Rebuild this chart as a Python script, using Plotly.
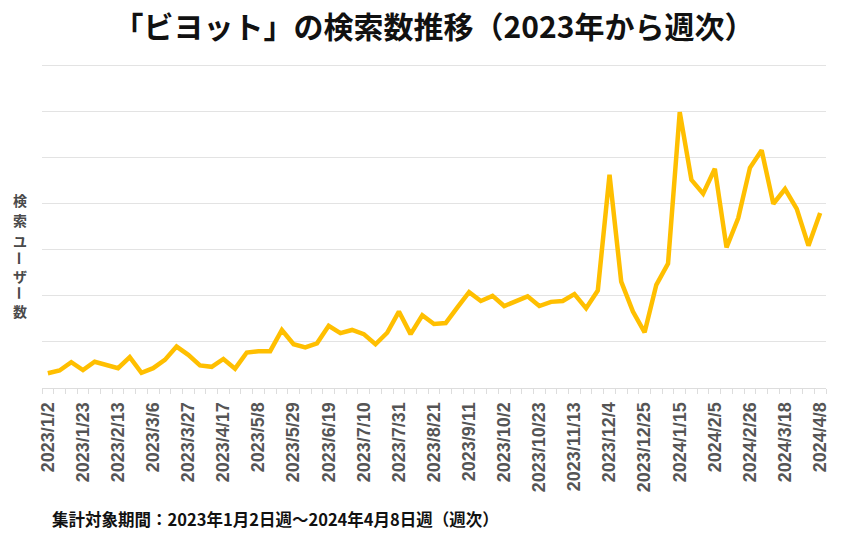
import plotly.graph_objects as go
from datetime import date, timedelta

# ---- data ----
start = date(2023, 1, 2)
weeks = [start + timedelta(days=7 * i) for i in range(67)]
week_labels = [f"{d.year}/{d.month}/{d.day}" for d in weeks]

search_users = [
    3.2, 3.8, 5.6, 3.9, 5.7, 4.9, 4.3, 6.7, 3.3, 4.3,
    6.1, 9.0, 7.2, 4.9, 4.6, 6.3, 4.2, 7.7, 8.0, 8.0,
    12.6, 9.5, 8.8, 9.7, 13.5, 11.9, 12.6, 11.7, 9.5, 12.0,
    16.6, 11.7, 15.8, 13.9, 14.1, 17.5, 20.8, 18.9, 20.0, 17.8,
    18.9, 19.9, 17.8, 18.7, 18.9, 20.4, 17.3, 21.2, 46.3, 23.1,
    16.6, 12.1, 22.4, 27.0, 59.9, 45.2, 42.2, 47.6, 30.5, 36.9,
    47.8, 51.6, 40.0, 43.2, 38.9, 30.9, 38.0,
]

title_text = "「ビヨット」の検索数推移（2023年から週次）"
y_title = "検索ユーザー数"
note_text = "集計対象期間：2023年1月2日週～2024年4月8日週（週次）"

FONT = "Noto Sans CJK JP"
TICK_FONT = "Liberation Sans"
x_idx = list(range(len(weeks)))
tick_idx = x_idx[::3]

# plot area: bottom at 388px, 46px per 10 units; range top 71 so the 70 grid line shows
Y_TOP = 71
PX_PER_UNIT = 4.6
plot_h = Y_TOP * PX_PER_UNIT
top_m = 388 - plot_h

fig = go.Figure()
fig.add_trace(go.Scatter(
    x=x_idx, y=search_users, mode="lines",
    line=dict(color="#FFBF00", width=4.5),
    hoverinfo="skip", showlegend=False,
))

fig.update_layout(
    width=852, height=546,
    margin=dict(l=42, r=26, t=top_m, b=158, autoexpand=False),
    paper_bgcolor="white", plot_bgcolor="white",
    font=dict(family=FONT),
    title=dict(
        text=title_text, x=0.5, xref="paper", xanchor="center",
        y=1 - 27 / 546, yref="container", yanchor="middle",
        font=dict(family=FONT, size=30, color="#111111", weight="bold"),
    ),
    xaxis=dict(
        range=[-0.5, len(weeks) - 0.5],
        tickmode="array", tickvals=tick_idx,
        ticktext=[week_labels[i] for i in tick_idx],
        tickangle=-90, ticks="outside", ticklen=6, tickcolor="rgba(0,0,0,0)",
        tickfont=dict(family=TICK_FONT, size=18, color="#555555", weight="bold"),
        showgrid=False, zeroline=False, automargin=False,
        showline=True, linecolor="#dddddd", linewidth=1,
        minor=dict(tickmode="linear", tick0=-0.5, dtick=1, ticks="outside",
                   ticklen=5, tickcolor="#dddddd", tickwidth=1, showgrid=False),
    ),
    yaxis=dict(
        range=[0, Y_TOP], tickmode="linear", tick0=0, dtick=10,
        showticklabels=False,
        showgrid=True, gridcolor="#e3e3e3", gridwidth=1,
        zeroline=False, showline=False, ticks="",
    ),
)

# vertical y-axis title, one character per line (ー turned as in vertical writing)
char_y = [200, 220.5, 241, 258.5, 276, 293, 311]
for ch, py in zip(y_title, char_y):
    fig.add_annotation(
        text=ch, xref="paper", yref="paper", x=0, xshift=-22,
        y=(388 - py) / plot_h,
        showarrow=False, xanchor="center", yanchor="middle",
        textangle=90 if ch == "ー" else 0,
        width=16, height=16, borderpad=0,
        font=dict(family=FONT, size=14, color="#4a4a4a", weight="bold"),
    )

fig.add_annotation(
    text=note_text, xref="paper", yref="paper", x=0, xshift=8,
    y=-(519 - 388) / plot_h, xanchor="left", yanchor="middle",
    showarrow=False,
    font=dict(family=FONT, size=16.5, color="#111111", weight="bold"),
)

fig.write_html("out.html", config={"displayModeBar": False})

# remove the browser's default page margin so the figure sits at the top-left corner
with open("out.html", encoding="utf-8") as f:
    html = f.read()
html = html.replace("<head>", "<head><style>html,body{margin:0;padding:0;}</style>", 1)
with open("out.html", "w", encoding="utf-8") as f:
    f.write(html)
